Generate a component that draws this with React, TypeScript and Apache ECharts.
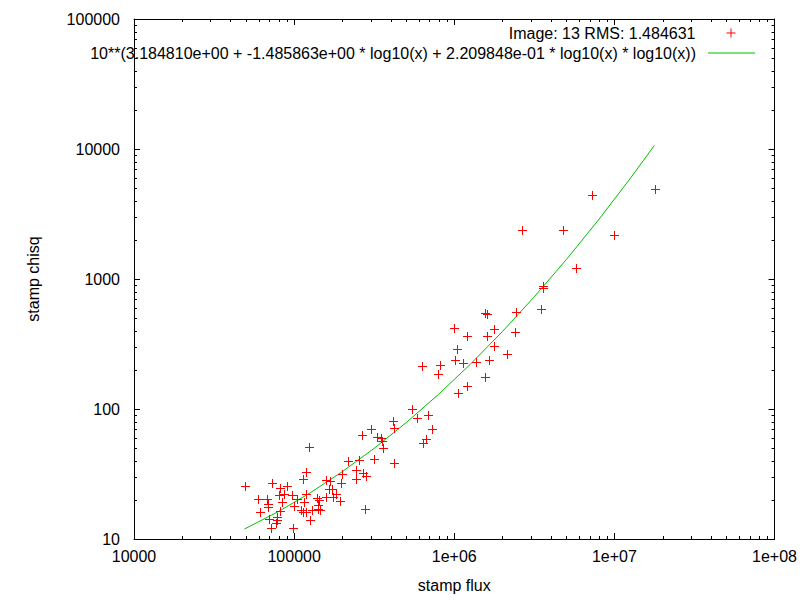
import React, { useEffect, useRef } from "react";
import * as echarts from "echarts";

// ---- data ----
const fluxValues = [
  49300, 72600, 81500, 90100, 118400, 113400, 59400, 67600, 68600, 68600,
  80300, 86300, 96800, 104000, 83900, 61100, 81500, 99600, 118400, 115000,
  69600, 78000, 78000, 76900, 71600, 98200, 110200, 113400, 118400, 125400,
  129000, 140700, 144800, 138700, 142700, 140700, 123600, 157800, 167100, 164800,
  172000, 182200, 157800, 174500, 193000, 195700, 198600, 216500, 242800, 242800,
  253600, 264800, 268600, 276400, 280400, 301200, 314600, 328500, 347800, 352800,
  357900, 413300, 419300, 419300, 542900, 583400, 636000, 664100, 683400, 723800,
  626900, 812100, 788900, 993000, 1197000, 1036000, 1007000, 1130000, 1362000, 1051000,
  1197000, 1550000, 1595000, 1764000, 1595000, 1764000, 1642000, 1550000, 2126000, 2420000,
  2385000, 2638000, 3466000, 3567000, 3567000, 4755000, 5731000, 7211000, 9892000, 17830000,
];
const chisqValues = [
  25.6, 27.0, 24.7, 25.6, 32.8, 28.9, 20.3, 20.3, 18.6, 17.6,
  21.8, 22.2, 21.8, 20.3, 19.3, 16.1, 16.4, 17.9, 22.2, 19.3,
  14.3, 14.8, 14.0, 13.3, 12.2, 12.2, 16.7, 16.1, 16.1, 14.0,
  16.7, 17.0, 16.7, 20.7, 20.0, 18.3, 51.0, 28.4, 27.9, 24.3,
  24.3, 22.2, 21.0, 21.0, 19.6, 27.0, 31.6, 39.8, 28.9, 33.9,
  40.5, 63.1, 32.2, 17.0, 30.5, 70.2, 41.2, 60.9, 59.8, 56.7,
  50.1, 80.9, 71.4, 38.4, 100, 85.2, 54.8, 58.8, 89.9, 70.2,
  214, 218, 186, 420, 364, 289, 238, 226, 230, 133,
  150, 547, 538, 412, 364, 305, 238, 176, 265, 557,
  391, 2380, 588, 884, 852, 2380, 1215, 4430, 2180, 4920,
];

const fitFlux = [
  48980, 79430, 125900, 199500, 316200, 501200, 794300, 1259000, 1995000,
  3162000, 5012000, 7943000, 12590000, 17780000,
];
const fitChisq = [
  11.94, 16.21, 22.63, 32.9, 49.82, 78.56, 129.0, 220.8, 393.3,
  730.0, 1411, 2841, 5958, 10661,
];

const xTickExps = [4, 5, 6, 7, 8];
const xTickText = ["10000", "100000", "1e+06", "1e+07", "1e+08"];
const yTickExps = [1, 2, 3, 4, 5];
const yTickText = ["10", "100", "1000", "10000", "100000"];
const minorMultipliers = [2, 3, 4, 5, 6, 7, 8, 9];

const scatterName = "Image: 13 RMS: 1.484631";
const fitName =
  "10**(3.184810e+00 + -1.485863e+00 * log10(x) + 2.209848e-01 * log10(x) * log10(x))";
const xName = "stamp flux";
const yName = "stamp chisq";

const RED = "#ff0000";
const GREEN = "#00c000";
const FONT = "Liberation Sans, Arial, sans-serif";
const PLUS = "path://M0,4.5L9,4.5M4.5,0L4.5,9";

function minorList(exps: number[]) {
  const out: number[] = [];
  for (let i = 0; i < exps.length - 1; i++) {
    for (const m of minorMultipliers) out.push(m * Math.pow(10, exps[i]));
  }
  return out;
}

function labelFrom(exps: number[], texts: string[]) {
  return (v: number) => {
    const e = Math.round(Math.log10(v));
    const i = exps.indexOf(e);
    return i >= 0 ? texts[i] : "";
  };
}

export default function App() {
  const ref = useRef<HTMLDivElement>(null);
  useEffect(() => {
    if (!ref.current) return;
    const chart = echarts.init(ref.current, null, { renderer: "svg" });
    const xMinor = minorList(xTickExps);
    const yMinor = minorList(yTickExps);
    const xMin = Math.pow(10, xTickExps[0]);
    const xMax = Math.pow(10, xTickExps[xTickExps.length - 1]);
    const yMin = Math.pow(10, yTickExps[0]);
    const yMax = Math.pow(10, yTickExps[yTickExps.length - 1]);

    const axisCommon = {
      type: "log",
      logBase: 10,
      axisLine: { show: true, onZero: false, lineStyle: { color: "#000", width: 1 } },
      axisTick: { show: true, inside: true, length: 6, lineStyle: { color: "#000" } },
      splitLine: { show: false },
      minorTick: { show: false },
    };

    const legendText = { fontSize: 16, color: "#000", fontFamily: FONT, padding: [0, 7, 0, 0] };

    const option: any = {
      animation: false,
      backgroundColor: "#fff",
      textStyle: { fontFamily: FONT },
      grid: { left: 134, right: 25, top: 19, bottom: 61, containLabel: false },
      legend: [
        {
          data: [
            {
              name: scatterName,
              icon: PLUS,
              itemStyle: { color: "transparent", borderColor: RED, borderWidth: 1 },
            },
          ],
          right: 64,
          top: 25,
          padding: 0,
          align: "right",
          itemWidth: 47,
          itemHeight: 9,
          symbolKeepAspect: true,
          selectedMode: false,
          textStyle: legendText,
        },
        {
          data: [{ name: fitName, icon: "rect", itemStyle: { color: GREEN, borderWidth: 0 } }],
          right: 45,
          top: 45,
          padding: 0,
          align: "right",
          itemWidth: 47,
          itemHeight: 1,
          symbolKeepAspect: false,
          selectedMode: false,
          textStyle: legendText,
        },
      ],
      xAxis: [
        {
          ...axisCommon,
          position: "bottom",
          min: xMin,
          max: xMax,
          name: xName,
          nameLocation: "middle",
          nameGap: 38,
          nameTextStyle: { fontSize: 16, color: "#000", fontFamily: FONT },
          axisLabel: {
            formatter: labelFrom(xTickExps, xTickText),
            fontSize: 16,
            color: "#000",
            margin: 9,
            fontFamily: FONT,
          },
        },
        {
          ...axisCommon,
          position: "top",
          min: xMin,
          max: xMax,
          axisLabel: { show: false },
        },
      ],
      yAxis: [
        {
          ...axisCommon,
          position: "left",
          min: yMin,
          max: yMax,
          name: yName,
          nameLocation: "middle",
          nameGap: 93,
          nameRotate: 90,
          nameTextStyle: { fontSize: 16, color: "#000", fontFamily: FONT },
          axisLabel: {
            formatter: labelFrom(yTickExps, yTickText),
            fontSize: 16,
            color: "#000",
            margin: 14,
            fontFamily: FONT,
          },
        },
        {
          ...axisCommon,
          position: "right",
          min: yMin,
          max: yMax,
          axisLabel: { show: false },
        },
      ],
      series: [
        {
          name: scatterName,
          type: "custom",
          xAxisIndex: 0,
          yAxisIndex: 0,
          itemStyle: { color: RED },
          data: fluxValues.map((x, i) => [x, chisqValues[i]]),
          renderItem: (_params: any, api: any) => {
            const p = api.coord([api.value(0), api.value(1)]);
            const cx = Math.round(p[0]) + 0.5;
            const cy = Math.round(p[1]) + 0.5;
            const st = { stroke: RED, lineWidth: 1 };
            return {
              type: "group",
              children: [
                { type: "line", shape: { x1: cx - 4.5, y1: cy, x2: cx + 4.5, y2: cy }, style: st },
                { type: "line", shape: { x1: cx, y1: cy - 4.5, x2: cx, y2: cy + 4.5 }, style: st },
              ],
            };
          },
          z: 3,
        },
        {
          name: fitName,
          type: "line",
          xAxisIndex: 0,
          yAxisIndex: 0,
          symbol: "none",
          showSymbol: false,
          smooth: false,
          lineStyle: { color: GREEN, width: 1 },
          itemStyle: { color: GREEN },
          data: fitFlux.map((x, i) => [x, fitChisq[i]]),
          z: 2,
        },
        {
          type: "custom",
          xAxisIndex: 0,
          yAxisIndex: 0,
          silent: true,
          clip: false,
          data: xMinor.map((v) => [v, yMin]),
          renderItem: (params: any, api: any) => {
            const x = Math.round(api.coord([api.value(0), yMin])[0]) + 0.5;
            const cs = params.coordSys;
            const b = cs.y + cs.height;
            const t = cs.y;
            return {
              type: "group",
              children: [
                { type: "line", shape: { x1: x, y1: b, x2: x, y2: b - 3 }, style: { stroke: "#000", lineWidth: 1 } },
                { type: "line", shape: { x1: x, y1: t, x2: x, y2: t + 3 }, style: { stroke: "#000", lineWidth: 1 } },
              ],
            };
          },
          z: 4,
        },
        {
          type: "custom",
          xAxisIndex: 0,
          yAxisIndex: 0,
          silent: true,
          clip: false,
          data: yMinor.map((v) => [xMin, v]),
          renderItem: (params: any, api: any) => {
            const y = Math.round(api.coord([xMin, api.value(1)])[1]) + 0.5;
            const cs = params.coordSys;
            const l = cs.x;
            const r = cs.x + cs.width;
            return {
              type: "group",
              children: [
                { type: "line", shape: { x1: l, y1: y, x2: l + 3, y2: y }, style: { stroke: "#000", lineWidth: 1 } },
                { type: "line", shape: { x1: r, y1: y, x2: r - 3, y2: y }, style: { stroke: "#000", lineWidth: 1 } },
              ],
            };
          },
          z: 4,
        },
      ],
    };
    chart.setOption(option);
    return () => chart.dispose();
  }, []);
  return (
    <div
      ref={ref}
      style={{ position: "fixed", left: 0, top: 0, width: 800, height: 600, background: "#fff" }}
    />
  );
}
